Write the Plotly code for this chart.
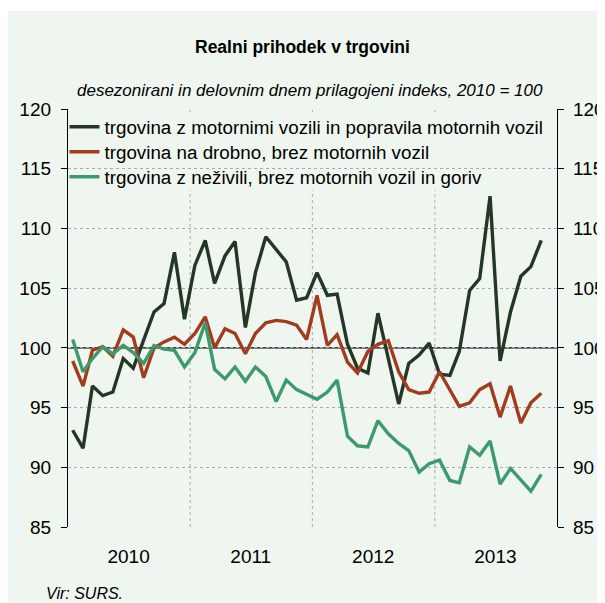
import pandas as pd
import plotly.graph_objects as go

months = pd.date_range("2010-01-01", periods=47, freq="MS") + pd.Timedelta(days=14)

motor = [93.1, 91.6, 96.8, 96.0, 96.3, 99.1, 98.3, 100.7, 103.0, 103.7, 108.0, 102.4,
         106.9, 109.0, 105.4, 107.7, 108.9, 101.7, 106.3, 109.3, 108.2, 107.2, 104.0, 104.2,
         106.3, 104.4, 104.5, 100.3, 98.3, 97.9, 102.9, 99.1, 95.3, 98.7, 99.4, 100.4,
         97.8, 97.7, 99.7, 104.8, 105.8, 112.7, 98.9, 103.0, 106.0, 106.8, 109.0]
drobno = [98.9, 96.8, 99.8, 100.1, 99.3, 101.5, 100.9, 97.5, 100.0, 100.5, 100.9, 100.3,
          101.2, 102.6, 100.0, 101.6, 101.2, 99.5, 101.2, 102.1, 102.3, 102.2, 101.9, 100.7,
          104.4, 100.2, 101.1, 98.8, 97.9, 99.7, 100.3, 100.6, 98.0, 96.5, 96.2, 96.3,
          98.0, 96.4, 95.1, 95.4, 96.5, 97.0, 94.2, 96.8, 93.7, 95.4, 96.2]
nezivila = [100.7, 98.0, 99.1, 100.1, 99.5, 100.2, 99.6, 98.7, 100.2, 99.9, 99.8, 98.4,
            99.6, 102.1, 98.2, 97.4, 98.4, 97.2, 98.4, 97.6, 95.5, 97.3, 96.5, 96.1,
            95.7, 96.3, 97.3, 92.6, 91.8, 91.7, 93.9, 92.8, 92.0, 91.4, 89.6, 90.3,
            90.6, 88.9, 88.7, 91.7, 91.0, 92.2, 88.6, 89.9, 88.9, 88.0, 89.4]

names = ["trgovina z motornimi vozili in popravila motornih vozil",
         "trgovina na drobno, brez motornih vozil",
         "trgovina z neživili, brez motornih vozil in goriv"]
colors = ["#243624", "#A23C1F", "#3C9A6C"]

year_ticks = ["2010-07-01", "2011-07-01", "2012-07-01", "2013-07-01"]
year_labels = ["2010", "2011", "2012", "2013"]
year_bounds = ["2011-01-01", "2012-01-01", "2013-01-01"]
y_ticks = [85, 90, 95, 100, 105, 110, 115, 120]

BG = "#EFF6EF"
FONT = "Liberation Sans, Arial, sans-serif"

# page body has an 8px margin: work in screen pixels, convert to figure pixels
OFF = 8
W, H = 605 - OFF, 603 - OFF
L, R, T, B = 67.5 - OFF, 557 - OFF, 109 - OFF, 527 - OFF
pw, ph = R - L, B - T
def px_x(p):
    return (p - OFF - L) / pw
def px_y(p):
    return (B - (p - OFF)) / ph

legend_ids = ["legend", "legend2", "legend3"]
row_centers = [127, 152, 177]

fig = go.Figure()
for i, (vals, nm, col) in enumerate(zip([motor, drobno, nezivila], names, colors)):
    fig.add_trace(go.Scatter(x=months, y=vals, name=nm, mode="lines",
                             line=dict(color=col, width=3.4), legend=legend_ids[i],
                             yaxis="y2" if i == 2 else "y"))

fig.add_shape(type="rect", xref="paper", yref="paper", x0=px_x(0), x1=px_x(620),
              y0=px_y(620), y1=px_y(11), fillcolor=BG, line_width=0, layer="below")
for xb in year_bounds:
    fig.add_shape(type="line", xref="x", yref="paper", x0=xb, x1=xb, y0=0, y1=1,
                  line=dict(color="#AAAAAA", width=1, dash="dot"), layer="below")
# legend background box hiding the gridlines
fig.add_shape(type="rect", xref="paper", yref="paper", x0=px_x(69), x1=px_x(551),
              y0=px_y(190), y1=px_y(112), fillcolor=BG, line_width=0, layer="between")
fig.add_shape(type="line", xref="paper", yref="y", x0=0, x1=1, y0=100, y1=100,
              line=dict(color="black", width=1.3), layer="between")

yax = dict(range=[85, 120], tickvals=y_ticks, showline=True, linecolor="black", linewidth=1.3,
           ticks="outside", ticklen=6, tickcolor="black", showgrid=True, gridcolor="#AAAAAA",
           griddash="dot", gridwidth=1, zeroline=False, automargin=False,
           tickfont=dict(size=19, color="black"))

legends = {}
for lid, rc in zip(legend_ids, row_centers):
    legends[lid] = dict(x=px_x(64), y=px_y(rc - 19), xanchor="left", yanchor="top",
                        bgcolor="rgba(0,0,0,0)", font=dict(size=18.8), itemwidth=30)

fig.update_layout(
    width=W, height=H,
    margin=dict(l=L, r=W - R, t=T, b=H - B, autoexpand=False),
    paper_bgcolor="white", plot_bgcolor=BG,
    font=dict(family=FONT, color="black"),
    xaxis=dict(range=["2010-01-01", "2014-01-01"], tickvals=year_ticks, ticktext=year_labels,
               ticks="", showgrid=False, zeroline=False, showline=False, automargin=False,
               ticklabelstandoff=16, tickfont=dict(size=19)),
    yaxis=dict(**yax, side="left", ticklabelstandoff=6),
    yaxis2=dict(**yax, side="right", overlaying="y", ticklabelstandoff=5),
    showlegend=True,
    **legends,
)
fig.add_annotation(text="<b>Realni prihodek v trgovini</b>", xref="paper", yref="paper",
                   x=px_x(302), y=px_y(47), xanchor="center", yanchor="middle",
                   showarrow=False, font=dict(size=17.5))
fig.add_annotation(text="<i>desezonirani in delovnim dnem prilagojeni indeks, 2010 = 100</i>",
                   xref="paper", yref="paper", x=px_x(310), y=px_y(90), xanchor="center",
                   yanchor="middle", showarrow=False, font=dict(size=17))
fig.add_annotation(text="<i>Vir: SURS.</i>", xref="paper", yref="paper", x=px_x(43), xanchor="left",
                   y=px_y(593), yanchor="middle", showarrow=False, font=dict(size=16))

fig.write_html("out.html")
